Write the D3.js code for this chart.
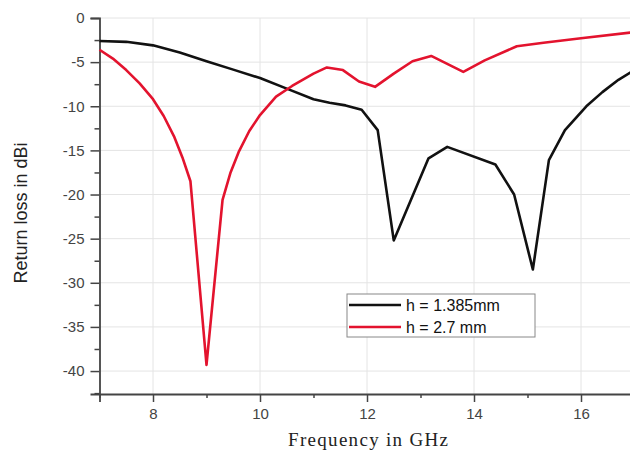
<!DOCTYPE html>
<html>
<head>
<meta charset="utf-8">
<script src="https://cdn.jsdelivr.net/npm/d3@7"></script>
<style>
  body { margin: 0; background: #fff; }
  svg { display: block; }
</style>
</head>
<body>
<div id="chart"></div>
<script>
const width = 630;
const height = 454;

// h = 1.385mm
const freqA = [7, 7.5, 8, 8.5, 9, 9.5, 10, 10.5, 11, 11.3, 11.6, 11.9, 12.2, 12.5, 13.15, 13.5, 14.4, 14.75, 15.1, 15.4, 15.7, 16.1, 16.4, 16.7, 17];
const lossA = [-2.6, -2.7, -3.1, -3.9, -4.9, -5.85, -6.8, -8.0, -9.2, -9.6, -9.9, -10.4, -12.7, -25.2, -15.9, -14.6, -16.6, -20.0, -28.5, -16.1, -12.7, -10.0, -8.4, -7.0, -5.9];

// h = 2.7 mm
const freqB = [7, 7.25, 7.5, 7.75, 8, 8.2, 8.4, 8.55, 8.7, 9.0, 9.3, 9.45, 9.6, 9.8, 10.0, 10.3, 10.6, 11.0, 11.25, 11.55, 11.85, 12.15, 12.5, 12.85, 13.2, 13.8, 14.2, 14.8, 15.3, 16, 17];
const lossB = [-3.6, -4.6, -5.9, -7.4, -9.2, -11.1, -13.5, -15.8, -18.5, -39.3, -20.6, -17.5, -15.2, -12.8, -11.0, -8.9, -7.7, -6.3, -5.6, -5.9, -7.2, -7.8, -6.3, -4.9, -4.3, -6.1, -4.8, -3.2, -2.8, -2.3, -1.6];

const seriesNames = ['h = 1.385mm', 'h = 2.7 mm'];
const colors = ['#111111', '#e3132e'];

const xTicks = [8, 10, 12, 14, 16];
const xMinor = [7, 9, 11, 13, 15, 17];
const yTicks = [0, -5, -10, -15, -20, -25, -30, -35, -40];
const yMinor = [-2.5, -7.5, -12.5, -17.5, -22.5, -27.5, -32.5, -37.5, -42.5];

const svg = d3.select('#chart')
  .append('svg')
  .attr('width', width)
  .attr('height', height);

svg.append('rect').attr('width', width).attr('height', height).attr('fill', '#fff');

const x = d3.scaleLinear().domain([7, 17]).range([99.5, 634.5]);
const y = d3.scaleLinear().domain([-42.6, 0]).range([394, 18]);

// grid
svg.append('g').selectAll('line')
  .data(xTicks)
  .enter().append('line')
  .attr('x1', d => x(d)).attr('x2', d => x(d))
  .attr('y1', y(0)).attr('y2', y(-42.6))
  .attr('stroke', '#e4e4e4').attr('stroke-width', 1);

svg.append('g').selectAll('line')
  .data(yTicks)
  .enter().append('line')
  .attr('x1', x(7)).attr('x2', width)
  .attr('y1', d => y(d)).attr('y2', d => y(d))
  .attr('stroke', '#e4e4e4').attr('stroke-width', 1);

// axes
svg.append('g')
  .attr('transform', `translate(0,${y(-42.6)})`)
  .call(d3.axisBottom(x).tickValues(xTicks).tickSize(8).tickPadding(6).tickFormat(d => String(d)));

svg.append('g')
  .attr('transform', `translate(0,${y(-42.6)})`)
  .call(d3.axisBottom(x).tickValues(xMinor).tickSize(4).tickFormat(''))
  .select('.domain').remove();

svg.append('g')
  .attr('transform', `translate(${x(7)},0)`)
  .call(d3.axisLeft(y).tickValues(yTicks).tickSize(9).tickPadding(6).tickFormat(d => String(d)));

svg.append('g')
  .attr('transform', `translate(${x(7)},0)`)
  .call(d3.axisLeft(y).tickValues(yMinor).tickSize(5).tickFormat(''))
  .select('.domain').remove();

svg.selectAll('.domain').attr('stroke', '#444').attr('stroke-width', 1.8);
svg.selectAll('.tick line').attr('stroke', '#444').attr('stroke-width', 1.5);
svg.selectAll('.tick text')
  .attr('fill', '#444')
  .style('font-size', '15px')
  .style('font-family', 'Liberation Sans, Arial, sans-serif');

// curves
const line = d3.line()
  .x(d => x(d[0]))
  .y(d => y(d[1]));

const dataA = freqA.map((f, i) => [f, lossA[i]]);
const dataB = freqB.map((f, i) => [f, lossB[i]]);

svg.append('path')
  .datum(dataA)
  .attr('d', line)
  .attr('fill', 'none')
  .attr('stroke', colors[0])
  .attr('stroke-width', 2.6)
  .attr('stroke-linejoin', 'round');

svg.append('path')
  .datum(dataB)
  .attr('d', line)
  .attr('fill', 'none')
  .attr('stroke', colors[1])
  .attr('stroke-width', 2.6)
  .attr('stroke-linejoin', 'round');

// legend
const legend = svg.append('g').attr('transform', 'translate(347,294)');
legend.append('rect')
  .attr('width', 188).attr('height', 43)
  .attr('fill', '#fff').attr('stroke', '#888').attr('stroke-width', 1);

seriesNames.forEach((name, i) => {
  const ly = 11 + i * 22;
  legend.append('line')
    .attr('x1', 2).attr('x2', 54)
    .attr('y1', ly).attr('y2', ly)
    .attr('stroke', colors[i]).attr('stroke-width', 2.6);
  legend.append('text')
    .attr('x', 59).attr('y', ly)
    .attr('dy', '.35em')
    .attr('fill', '#111')
    .style('font-size', '16px')
    .style('font-family', 'Liberation Sans, Arial, sans-serif')
    .text(name);
});

// axis titles
svg.append('text')
  .attr('x', 368).attr('y', 446)
  .attr('text-anchor', 'middle')
  .attr('fill', '#222')
  .attr('textLength', 160)
  .style('font-size', '19px')
  .style('font-family', 'Liberation Serif, Times New Roman, serif')
  .text('Frequency in GHz');

svg.append('text')
  .attr('transform', 'translate(27,213) rotate(-90)')
  .attr('text-anchor', 'middle')
  .attr('fill', '#222')
  .style('font-size', '18px')
  .style('font-family', 'Liberation Sans, Arial, sans-serif')
  .text('Return loss in dBi');
</script>
</body>
</html>
